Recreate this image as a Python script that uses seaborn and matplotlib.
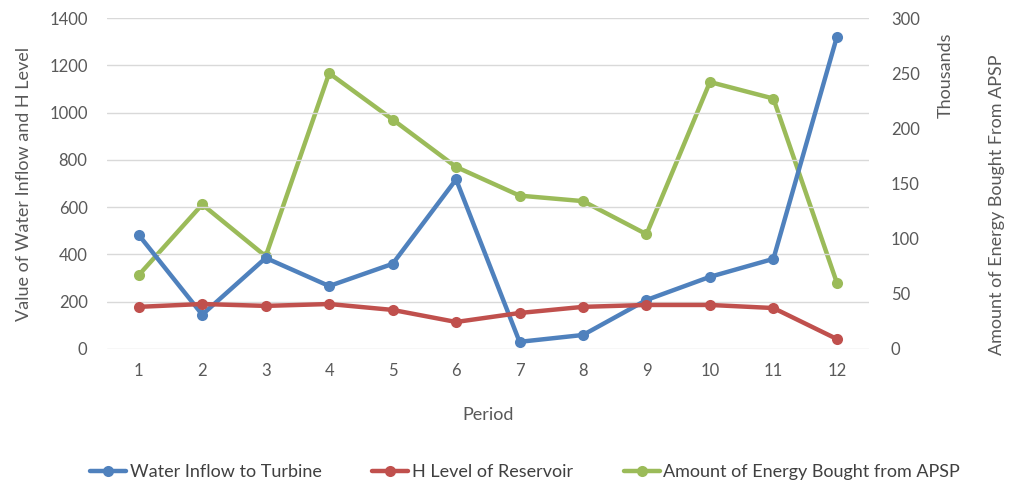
import matplotlib
matplotlib.use("Agg")
import matplotlib.pyplot as plt
import seaborn as sns
import pandas as pd
from matplotlib.lines import Line2D

periods = [1, 2, 3, 4, 5, 6, 7, 8, 9, 10, 11, 12]
water_inflow = [482, 145, 385, 266, 360, 717, 30, 59, 207, 305, 381, 1320]
h_level = [178, 190, 182, 190, 165, 114, 152, 178, 186, 186, 173, 42]
energy_thousands = [67, 131, 84, 250, 208, 165, 139, 134, 104, 242, 227, 60]

blue = "#4F81BD"
red = "#C0504D"
green = "#9BBB59"
txt = "#595959"

df = pd.DataFrame({"Period": periods, "Water": water_inflow, "H": h_level, "Energy": energy_thousands})

sns.set_style("white")
plt.rcParams['font.family'] = ['Lato', 'DejaVu Sans']

fig = plt.figure(figsize=(10.1, 4.88), dpi=100)
ax = fig.add_axes([0.106, 0.285, 0.754, 0.678])
ax2 = ax.twinx()

lw = 3.2
ms = 8
sns.lineplot(data=df, x="Period", y="Water", ax=ax, color=blue, lw=lw, marker="o",
             markersize=ms, markeredgewidth=0, zorder=3)
sns.lineplot(data=df, x="Period", y="H", ax=ax, color=red, lw=lw, marker="o",
             markersize=ms, markeredgewidth=0, zorder=3)
sns.lineplot(data=df, x="Period", y="Energy", ax=ax2, color=green, lw=lw, marker="o",
             markersize=ms, markeredgewidth=0, zorder=3)

# blue line sits above green in the original, so put the left axis on top
ax.set_zorder(ax2.get_zorder() + 1)
ax.patch.set_visible(False)

ax.set_xlim(0.5, 12.5)
ax.set_ylim(0, 1400)
ax2.set_ylim(0, 300)
ax.set_xticks(periods)
ax.set_yticks(range(0, 1401, 200))
ax2.set_yticks(range(0, 301, 50))

ax.yaxis.grid(True, color="#D9D9D9", lw=1)
ax.set_axisbelow(True)
for a in (ax, ax2):
    for s in a.spines.values():
        s.set_visible(False)
    a.tick_params(length=0, labelsize=12, labelcolor=txt)
ax.tick_params(axis="y", pad=14)
ax.tick_params(axis="x", pad=10)
ax2.tick_params(axis="y", pad=16)

ax.set_xlabel("Period", fontsize=13, color=txt, labelpad=20)
ax.set_ylabel("Value of Water Inflow and H Level", fontsize=13, color=txt, labelpad=12)
ax2.set_ylabel("")
fig.text(0.936, 0.845, "Thousands", rotation=90, ha="center", va="center", fontsize=13, color=txt)
fig.text(0.987, 0.58, "Amount of Energy Bought From APSP", rotation=90, ha="center", va="center",
         fontsize=13, color=txt)

handles = [Line2D([], [], color=c, lw=lw, marker="o", markersize=ms, markeredgewidth=0)
           for c in (blue, red, green)]
labels = ["Water Inflow to Turbine", "H Level of Reservoir", "Amount of Energy Bought from APSP"]
fig.legend(handles, labels, loc="center", bbox_to_anchor=(0.52, 0.032), ncol=3, frameon=False,
           fontsize=13, labelcolor="#404040", handlelength=2.0, handletextpad=0.2, columnspacing=2.8)

fig.savefig("out.png", dpi=100)
